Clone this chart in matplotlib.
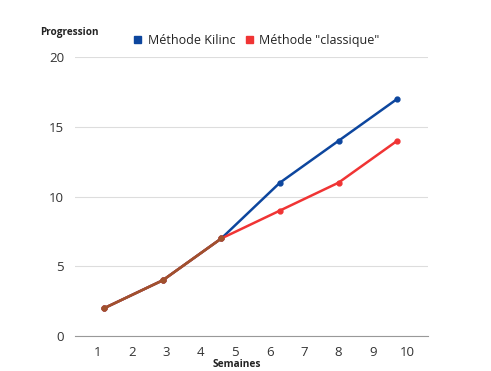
import matplotlib
matplotlib.use("Agg")
import matplotlib.pyplot as plt
from matplotlib.patches import Patch
import numpy as np

plt.rcParams['font.family'] = ['Open Sans', 'DejaVu Sans']

# positions des points sur l'axe des semaines
semaines = [1.2, 2.9, 4.6, 6.3, 8.0, 9.7]
kilinc = [2, 4, 7, 11, 14, 17]
classique = [2, 4, 7, 9, 11, 14]
xticks = [1, 2, 3, 4, 5, 6, 7, 8, 9, 10]
yticks = [0, 5, 10, 15, 20]

bleu = '#0d469e'
rouge = '#f03434'
brun = '#a0522d'

fig = plt.figure(figsize=(4.91, 3.71), dpi=100)
ax = fig.add_axes([0.153, 0.094, 0.719, 0.752])

ax.plot(semaines, kilinc, color=bleu, lw=1.8, marker='o', ms=3.5, zorder=3)
ax.plot(semaines, classique, color=rouge, lw=1.8, marker='o', ms=3.5, zorder=4)

# partie commune des deux courbes
k = np.array(kilinc)
c = np.array(classique)
n = np.where(k == c)[0].max() + 1
ax.plot(semaines[:n], classique[:n], color=brun, lw=1.8, marker='o', ms=3.5, zorder=5)

ax.set_xlim(0.36, 10.6)
ax.set_ylim(0, 20)
ax.set_xticks(xticks)
ax.set_yticks(yticks)
ax.tick_params(length=0, labelsize=9.5, colors='#333333', pad=7)
ax.tick_params(axis='y', pad=8)
ax.grid(axis='y', color='#dddddd', lw=0.8)
ax.set_axisbelow(True)
for s in ['top', 'right', 'left']:
    ax.spines[s].set_visible(False)
ax.spines['bottom'].set_color('#999999')
ax.spines['bottom'].set_linewidth(0.8)

fig.text(0.483, 0.017, 'Semaines', fontsize=7.3, fontweight='bold', color='#222222', ha='center', va='center')
fig.text(0.082, 0.912, 'Progression', fontsize=7.2, fontweight='bold', color='#222222', va='center')

# légende avec carrés
handles = [Patch(color=bleu, label='Méthode Kilinc'), Patch(color=rouge, label='Méthode "classique"')]
leg = ax.legend(handles=handles, loc='center left', bbox_to_anchor=(0.168, 1.06), ncol=2, frameon=False,
                handlelength=0.55, handleheight=0.55, handletextpad=0.5, columnspacing=0.9,
                fontsize=9, labelcolor='#222222', borderaxespad=0, borderpad=0)

plt.savefig('out.png', dpi=100)
